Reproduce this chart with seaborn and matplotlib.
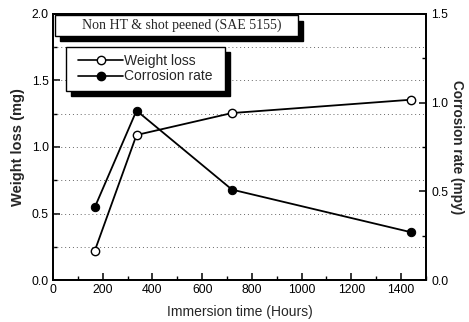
import matplotlib
matplotlib.use("Agg")
import matplotlib.pyplot as plt
from matplotlib.patches import Rectangle
from matplotlib.lines import Line2D
from matplotlib.ticker import MultipleLocator
import seaborn as sns
import pandas as pd

# Immersion test results
hours = [168, 336, 720, 1440]
weight_loss = [0.22, 1.09, 1.255, 1.355]      # mg
corrosion_rate = [0.41, 0.955, 0.51, 0.27]    # mpy

title_text = "Non HT & shot peened (SAE 5155)"
x_label = "Immersion time (Hours)"
y_label = "Weight loss (mg)"
y2_label = "Corrosion rate (mpy)"
series_names = ["Weight loss", "Corrosion rate"]

sns.set_theme(style="white")
plt.rcParams["font.family"] = ["Liberation Sans", "DejaVu Sans"]

df = pd.DataFrame({"hours": hours, "wl": weight_loss, "cr": corrosion_rate})

fig = plt.figure(figsize=(4.69, 3.22), dpi=100)
ax = fig.add_axes([0.113, 0.130, 0.795, 0.827])
ax2 = ax.twinx()

sns.lineplot(data=df, x="hours", y="wl", ax=ax, color="black", linewidth=1.3,
             marker="o", markersize=6, markerfacecolor="white",
             markeredgecolor="black", markeredgewidth=1.0, zorder=5)
sns.lineplot(data=df, x="hours", y="cr", ax=ax2, color="black", linewidth=1.3,
             marker="o", markersize=6, markerfacecolor="black",
             markeredgecolor="black", zorder=5)

ax.set_xlim(0, 1500)
ax.set_ylim(0, 2.0)
ax2.set_ylim(0, 1.5)

ax.xaxis.set_major_locator(MultipleLocator(200))
ax.xaxis.set_minor_locator(MultipleLocator(100))
ax.yaxis.set_major_locator(MultipleLocator(0.5))
ax.yaxis.set_minor_locator(MultipleLocator(0.25))
ax2.yaxis.set_major_locator(MultipleLocator(0.5))
ax2.yaxis.set_minor_locator(MultipleLocator(0.25))

ax.grid(False)
ax2.grid(False)
for lvl in [0.25, 0.5, 0.75, 1.0, 1.25, 1.5, 1.75]:
    ax.axhline(lvl, color="#666666", linestyle=(0, (1, 3)), linewidth=0.7, zorder=1)

for a in (ax, ax2):
    for s in a.spines.values():
        s.set_color("black")
        s.set_linewidth(1.3)
ax.tick_params(axis="both", which="both", direction="in", colors="black",
               labelsize=8.8, pad=3)
ax.tick_params(which="major", length=5, width=1.1)
ax.tick_params(which="minor", length=3, width=1.0)
ax.tick_params(axis="y", which="both", left=True, right=False)
ax.tick_params(axis="x", which="both", bottom=True, top=False)
ax2.tick_params(axis="y", which="both", direction="in", right=True, colors="black",
                labelsize=8.8, pad=4)
ax2.tick_params(which="major", length=5, width=1.1)
ax2.tick_params(which="minor", length=3, width=1.0)

ax.yaxis.set_major_formatter(plt.FormatStrFormatter("%.1f"))
ax2.yaxis.set_major_formatter(plt.FormatStrFormatter("%.1f"))

ax.set_xlabel(x_label, fontsize=10, labelpad=6)
ax.set_ylabel(y_label, fontsize=10.5, fontweight="bold", labelpad=5)
ax2.set_ylabel(y2_label, fontsize=9.8, fontweight="bold", rotation=-90, labelpad=11)

ax2.set_zorder(ax.get_zorder() + 1)
ax2.patch.set_visible(False)

# Title box with drop shadow
sx, sy = 0.013, -0.019
tb = (0.005, 0.917, 0.652, 0.077)
ax2.add_patch(Rectangle((tb[0] + sx, tb[1] + sy), tb[2], tb[3], transform=ax2.transAxes,
                        facecolor="black", edgecolor="black", zorder=6, clip_on=False))
ax2.add_patch(Rectangle((tb[0], tb[1]), tb[2], tb[3], transform=ax2.transAxes,
                        facecolor="white", edgecolor="black", linewidth=1.0, zorder=7,
                        clip_on=False))
ax2.text(tb[0] + tb[2] / 2 + 0.015, tb[1] + tb[3] / 2, title_text, transform=ax2.transAxes,
         ha="center", va="center", fontsize=10, family="Liberation Serif", zorder=8)

# Legend box with drop shadow
lb = (0.035, 0.712, 0.426, 0.164)
ax2.add_patch(Rectangle((lb[0] + sx, lb[1] + sy), lb[2], lb[3], transform=ax2.transAxes,
                        facecolor="black", edgecolor="black", zorder=6, clip_on=False))
ax2.add_patch(Rectangle((lb[0], lb[1]), lb[2], lb[3], transform=ax2.transAxes,
                        facecolor="white", edgecolor="black", linewidth=1.0, zorder=7,
                        clip_on=False))
handles = [
    Line2D([], [], color="black", linewidth=1.2, marker="o", markersize=6,
           markerfacecolor="white", markeredgecolor="black"),
    Line2D([], [], color="black", linewidth=1.2, marker="o", markersize=6,
           markerfacecolor="black", markeredgecolor="black"),
]
leg = ax2.legend(handles, series_names, loc="center", frameon=False,
                 bbox_to_anchor=(lb[0] + lb[2] / 2, lb[1] + lb[3] / 2),
                 bbox_transform=ax2.transAxes, fontsize=10, handlelength=3.2,
                 handletextpad=0.1, labelspacing=0.1, borderpad=0.2)
leg.set_zorder(9)

fig.savefig("out.png", dpi=100)
